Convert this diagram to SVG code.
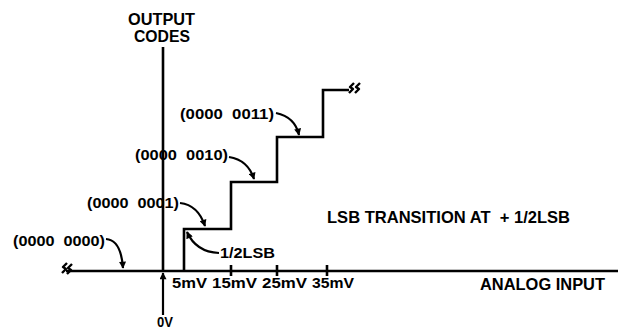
<svg xmlns="http://www.w3.org/2000/svg" width="618" height="329" viewBox="0 0 618 329">
<style>
text{font-family:"Liberation Sans",Arial,sans-serif;font-weight:bold;fill:#000}
.big{font-size:16.5px}
.sm{font-size:14.5px}
.ln{fill:none;stroke:#000;stroke-width:2.6;stroke-linejoin:miter;stroke-linecap:butt}
.ld{fill:none;stroke:#000;stroke-width:2.2}
.brk{fill:none;stroke:#000;stroke-width:2.4;stroke-linejoin:round}
</style>
<defs>
<marker id="ah" viewBox="0 0 10 10" refX="9" refY="5" markerWidth="9" markerHeight="7" markerUnits="userSpaceOnUse" orient="auto">
<path d="M0,0 L10,5 L0,10 z" fill="#000"/>
</marker>
</defs>
<g id="axes">
<line class="ln" x1="163" y1="47" x2="163" y2="271"/>
<line class="ln" x1="66" y1="271" x2="618" y2="271"/>
<line class="ln" x1="231" y1="265" x2="231" y2="276"/>
<line class="ln" x1="277" y1="265" x2="277" y2="276"/>
<line class="ln" x1="327" y1="265" x2="327" y2="276"/>
<path class="brk" d="M62,273 L66,269 L63,267 L67,263"/>
<path class="brk" d="M67,274 L71,270 L68,268 L72,264"/>
</g>
<g id="staircase">
<path class="ln" d="M184,271 V229 H231 V182 H277 V137 H323 V90 H349"/>
<path class="brk" d="M349,93 L353,89 L350,87 L354,83"/>
<path class="brk" d="M355,93 L359,89 L356,87 L360,83"/>
</g>
<g id="connectors">
<path class="ld" d="M106,239 Q121,240 123,268" marker-end="url(#ah)"/>
<path class="ld" d="M180,203 Q198,205 205,226" marker-end="url(#ah)"/>
<path class="ld" d="M229,157 Q248,160 254,179" marker-end="url(#ah)"/>
<path class="ld" d="M276,113 Q295,117 299,135" marker-end="url(#ah)"/>
<path class="ld" d="M219,253 Q196,252 187,232" marker-end="url(#ah)"/>
<line class="ld" x1="163" y1="315" x2="163" y2="273" marker-end="url(#ah)"/>
</g>
<g id="labels">
<text class="big" x="128" y="25" textLength="67" lengthAdjust="spacingAndGlyphs">OUTPUT</text>
<text class="big" x="134" y="42" textLength="56" lengthAdjust="spacingAndGlyphs">CODES</text>
<text class="sm" x="180" y="119" textLength="94" lengthAdjust="spacingAndGlyphs" xml:space="preserve">(0000  0011)</text>
<text class="sm" x="135" y="160" textLength="93" lengthAdjust="spacingAndGlyphs" xml:space="preserve">(0000  0010)</text>
<text class="sm" x="87" y="208" textLength="92" lengthAdjust="spacingAndGlyphs" xml:space="preserve">(0000  0001)</text>
<text class="sm" x="13" y="246" textLength="92" lengthAdjust="spacingAndGlyphs" xml:space="preserve">(0000  0000)</text>
<text class="sm" x="220" y="258" textLength="55" lengthAdjust="spacingAndGlyphs">1/2LSB</text>
<text class="sm" x="172" y="288" textLength="35" lengthAdjust="spacingAndGlyphs">5mV</text>
<text class="sm" x="212" y="288" textLength="45" lengthAdjust="spacingAndGlyphs">15mV</text>
<text class="sm" x="262" y="288" textLength="45" lengthAdjust="spacingAndGlyphs">25mV</text>
<text class="sm" x="312" y="288" textLength="42" lengthAdjust="spacingAndGlyphs">35mV</text>
<text class="sm" x="157" y="327" textLength="16" lengthAdjust="spacingAndGlyphs">0V</text>
<text class="big" x="327" y="223" textLength="243" lengthAdjust="spacingAndGlyphs" xml:space="preserve">LSB TRANSITION AT  + 1/2LSB</text>
<text class="big" x="480" y="290" textLength="125" lengthAdjust="spacingAndGlyphs">ANALOG INPUT</text>
</g>
</svg>
